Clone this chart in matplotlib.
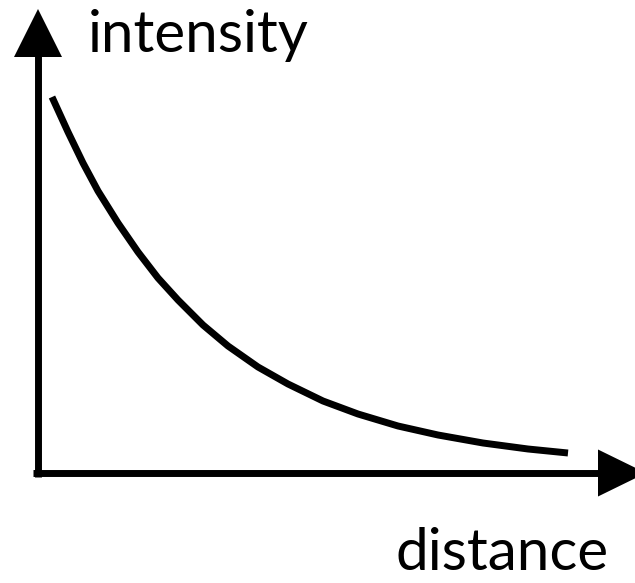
import matplotlib
matplotlib.use("Agg")
import matplotlib.pyplot as plt
from matplotlib.patches import Polygon

# curve (distance, intensity), arbitrary units
distance = [14, 30, 45, 60, 80, 100, 120, 140, 165, 190, 220, 250,
            285, 320, 360, 400, 445, 490, 530]
intensity = [376, 341, 310, 282, 250, 221, 195, 173, 148, 127, 106, 89,
             72, 59, 47, 38, 30, 24, 20]

x_label = "distance"
y_label = "intensity"

fig = plt.figure(figsize=(6.35, 5.83), dpi=100)
ax = fig.add_axes([0, 0, 1, 1])
ax.set_xlim(-38, 597)
ax.set_ylim(-110, 473)
ax.axis("off")

lw = 5.0

# axis lines
ax.plot([-5, 562], [0, 0], color="black", lw=lw, solid_capstyle="butt")
ax.plot([0, 0], [-3.5, 418], color="black", lw=lw, solid_capstyle="butt")

# arrow heads
ax.add_patch(Polygon([[-24, 416], [24, 416], [0, 464]], closed=True,
                     color="black", lw=0))
ax.add_patch(Polygon([[560, 23.5], [560, -23.5], [608, 0]], closed=True,
                     color="black", lw=0))

# the decay curve
ax.plot(distance, intensity, color="black", lw=lw, solid_capstyle="butt",
        solid_joinstyle="round")

ax.text(50, 421, y_label, fontsize=42, family="Lato", ha="left", va="baseline")
ax.text(357, -97, x_label, fontsize=42, family="Lato", ha="left", va="baseline")

fig.savefig("out.png", dpi=100)
